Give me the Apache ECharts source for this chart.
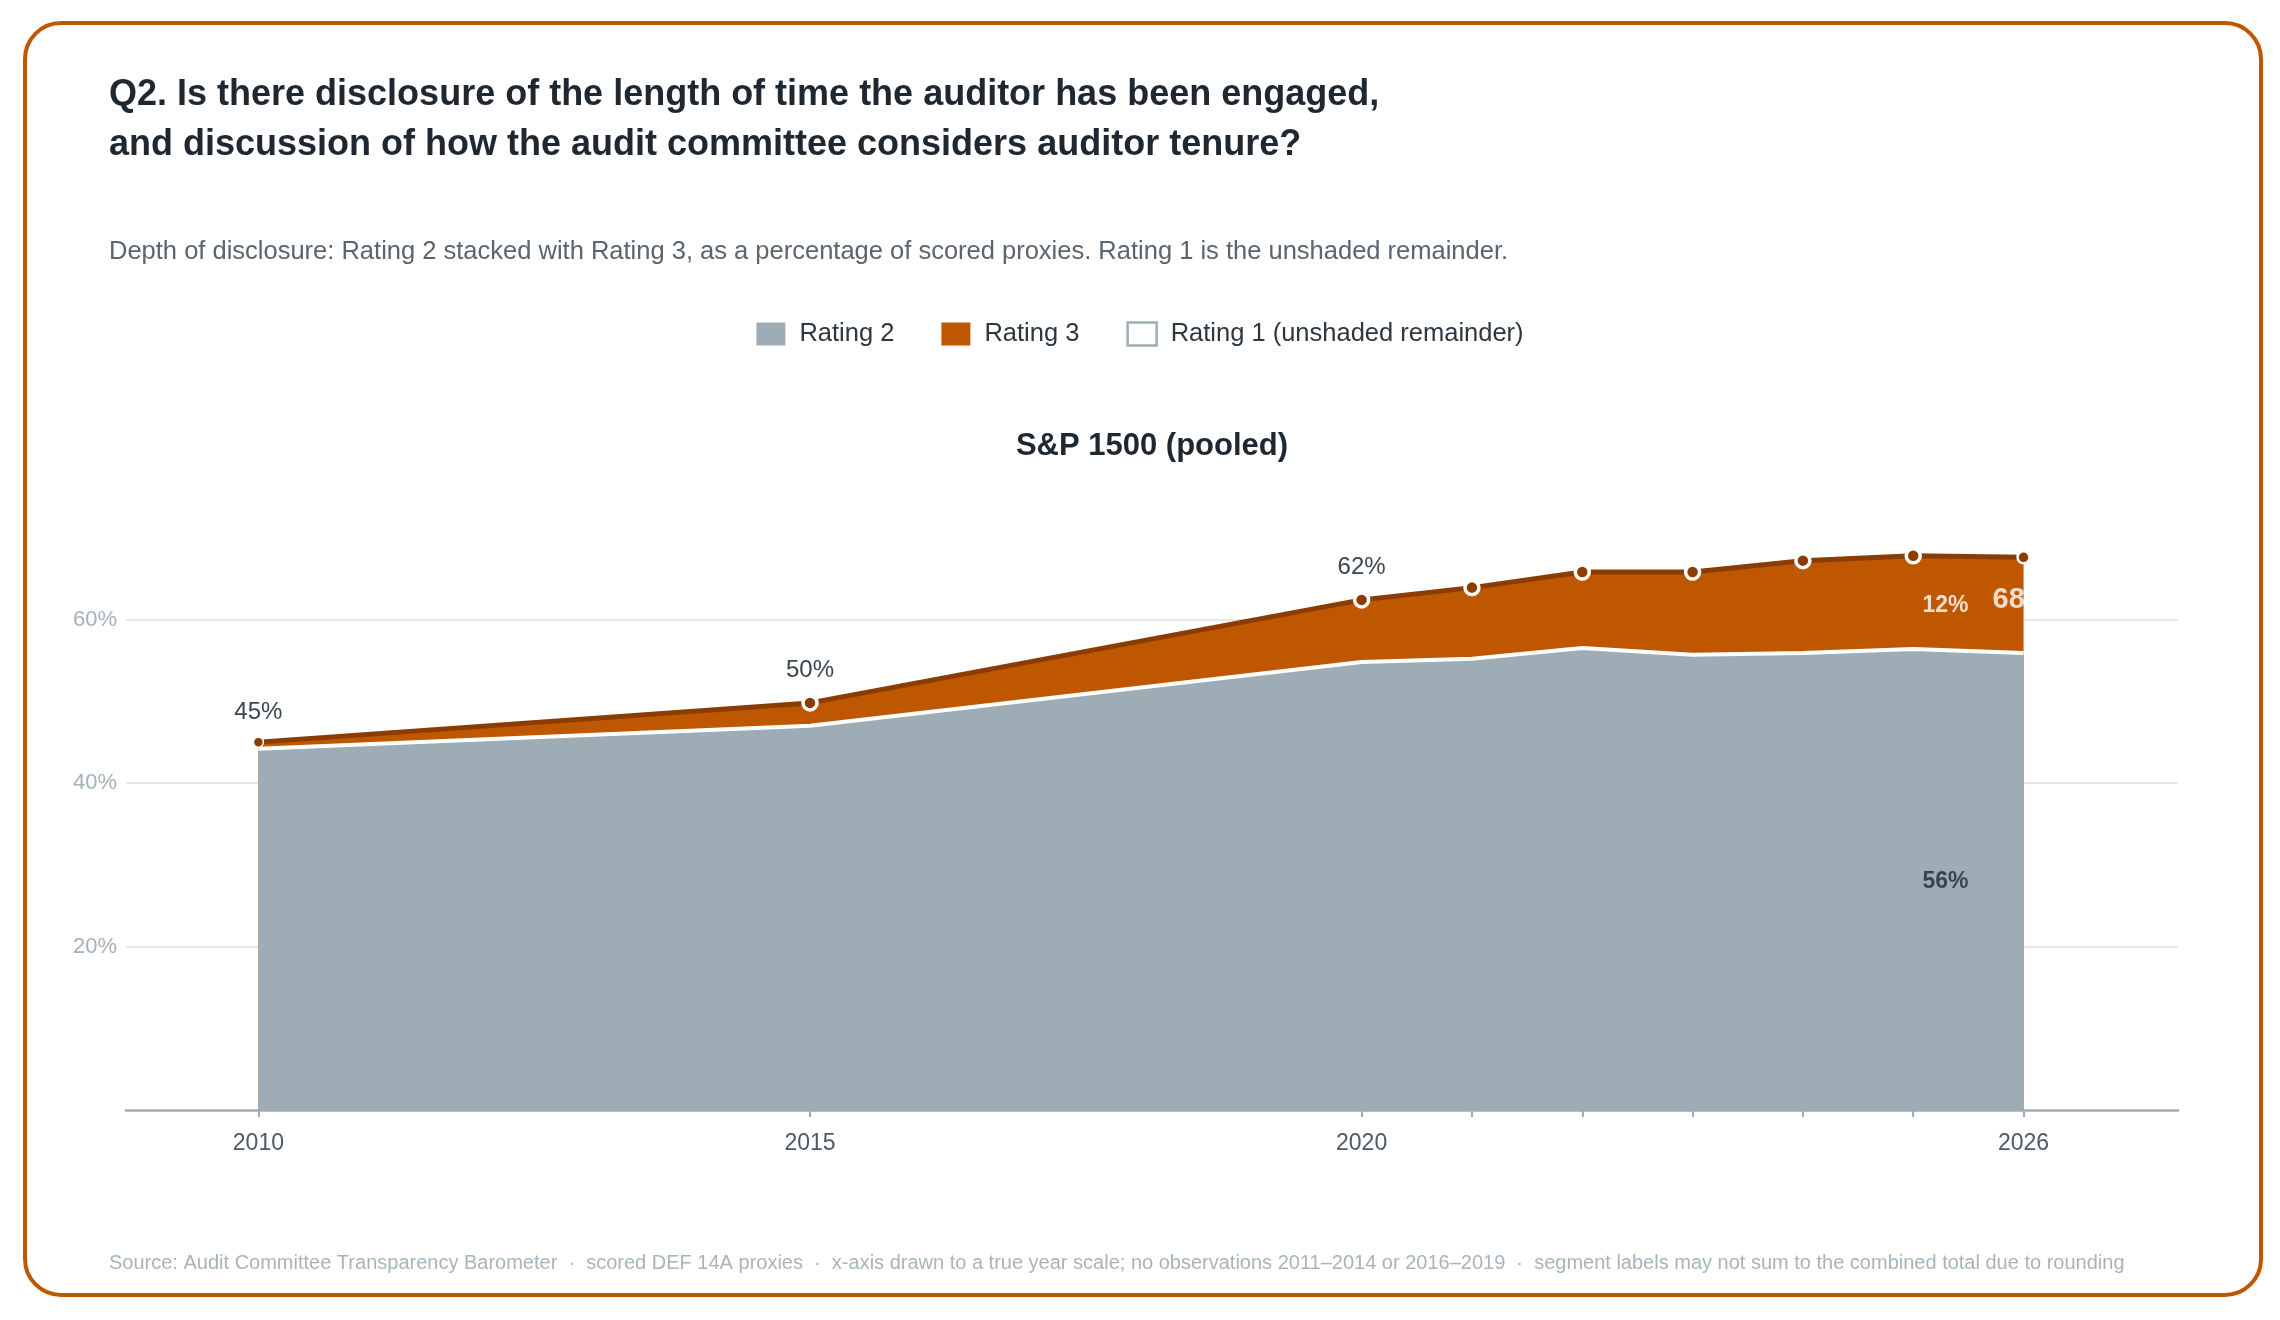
<!DOCTYPE html>
<html>
<head>
<meta charset="utf-8">
<script src="https://cdn.jsdelivr.net/npm/echarts@6/dist/echarts.min.js"></script>
<style>
  html, body { margin: 0; padding: 0; background: #fff; }
  #chart { width: 2280px; height: 1320px; }
</style>
</head>
<body>
<div id="chart"></div>
<script>
var FONT = '"Liberation Sans", Arial, sans-serif';

// observation years (true year scale)
var years = [2010, 2015, 2020, 2021, 2022, 2023, 2024, 2025, 2026];
// % of scored proxies
var rating2 = [44.2, 47.0, 54.8, 55.2, 56.5, 55.7, 55.9, 56.4, 55.9];
var rating3 = [0.8, 2.8, 7.6, 8.7, 9.3, 10.1, 11.3, 11.4, 11.7];
var labelYears = [2010, 2015, 2020];
var xLabelYears = [2010, 2015, 2020, 2026];

var GRAY = '#9dacb5';
var ORANGE = '#bf5700';
var BROWN = '#8b3c00';

// rating 2 + rating 3 (top of the shaded stack)
var combined = rating2.map(function (v, i) { return v + rating3[i]; });

var topPoints = years.map(function (y, i) {
  var last = i === years.length - 1;
  var item = { value: [y, combined[i]] };
  if (i === 0) {
    item.symbolSize = 10;
    item.itemStyle = { borderWidth: 1.5 };
  } else if (last) {
    item.symbolSize = 12;
    item.itemStyle = { borderWidth: 2.5 };
  }
  if (labelYears.indexOf(y) >= 0) {
    item.label = { show: true, formatter: Math.round(combined[i]) + '%' };
  }
  return item;
});

var n = years.length - 1;
var segLabels = [
  {
    value: [years[n], rating2[n] / 2],
    label: { formatter: Math.round(rating2[n]) + '%', color: '#1f2a33', align: 'right', offset: [-55, 0] }
  },
  {
    value: [years[n], rating2[n] + rating3[n] / 2],
    label: { formatter: Math.round(rating3[n]) + '%', color: '#fff', align: 'right', offset: [-55, 0] }
  },
  {
    value: [years[n], rating2[n] + rating3[n] / 2],
    label: { formatter: Math.round(combined[n]) + '%', color: '#fff', fontSize: 29, align: 'left', offset: [-31, -5] }
  }
];

var option = {
  backgroundColor: '#fff',
  animation: false,
  textStyle: { fontFamily: FONT },
  graphic: [{
    type: 'rect',
    shape: { x: 25, y: 23, width: 2236, height: 1272, r: 36 },
    style: { fill: 'none', stroke: ORANGE, lineWidth: 4 },
    silent: true
  }],
  title: [{
    text: 'Q2. Is there disclosure of the length of time the auditor has been engaged,\nand discussion of how the audit committee considers auditor tenure?',
    left: 109,
    top: 70,
    padding: 0,
    textStyle: { fontFamily: FONT, fontSize: 36, fontWeight: 'bold', color: '#1f2830', lineHeight: 50 }
  }, {
    text: 'Depth of disclosure: Rating 2 stacked with Rating 3, as a percentage of scored proxies. Rating 1 is the unshaded remainder.',
    left: 109,
    top: 237,
    padding: 0,
    textStyle: { fontFamily: FONT, fontSize: 25.5, fontWeight: 'normal', color: '#5a6570', lineHeight: 30 }
  }, {
    text: 'S&P 1500 (pooled)',
    left: 1152,
    textAlign: 'center',
    top: 429,
    padding: 0,
    textStyle: { fontFamily: FONT, fontSize: 31, fontWeight: 'bold', color: '#1f2830', lineHeight: 34 }
  }, {
    text: 'Source: Audit Committee Transparency Barometer  \u00b7  scored DEF 14A proxies  \u00b7  x-axis drawn to a true year scale; no observations 2011\u20132014 or 2016\u20132019  \u00b7  segment labels may not sum to the combined total due to rounding',
    left: 109,
    top: 1251,
    padding: 0,
    textStyle: { fontFamily: FONT, fontSize: 20, fontWeight: 'normal', color: '#a7b4be', lineHeight: 24 }
  }],
  legend: {
    left: 'center',
    top: 321,
    padding: 0,
    itemWidth: 29,
    itemHeight: 23,
    itemGap: 47,
    selectedMode: false,
    textStyle: { fontFamily: FONT, fontSize: 25.5, color: '#2d3740', padding: [0, 0, 0, 9] },
    data: [
      { name: 'Rating 2', icon: 'rect', itemStyle: { color: GRAY, borderWidth: 0 } },
      { name: 'Rating 3', icon: 'rect', itemStyle: { color: ORANGE, borderWidth: 0 } },
      { name: 'Rating 1 (unshaded remainder)', icon: 'rect', itemStyle: { color: '#fff', borderColor: GRAY, borderWidth: 2.5 } }
    ]
  },
  grid: { left: 126, right: 102, top: 456, bottom: 210 },
  xAxis: {
    type: 'value',
    min: 2008.8,
    max: 2027.4,
    axisLine: { show: true, lineStyle: { color: GRAY, width: 2.5 } },
    axisTick: { show: true, customValues: years, length: 7, lineStyle: { color: GRAY, width: 2 } },
    axisLabel: {
      customValues: xLabelYears,
      color: '#4d5965',
      fontSize: 23,
      margin: 22,
      fontFamily: FONT,
      formatter: function (v) { return String(v); }
    },
    splitLine: { show: false }
  },
  yAxis: {
    type: 'value',
    min: 0,
    max: 80,
    interval: 20,
    axisLine: { show: false },
    axisTick: { show: false },
    axisLabel: {
      formatter: '{value}%',
      color: '#a3b1bb',
      fontSize: 22,
      margin: 9,
      fontFamily: FONT,
      showMinLabel: false,
      showMaxLabel: false
    },
    splitLine: { show: true, showMinLine: false, showMaxLine: false, lineStyle: { color: '#e6e6e1', width: 2 } }
  },
  series: [{
    // orange band: filled up to the combined total, Rating 2 is painted over it
    name: 'Rating 3',
    type: 'line',
    z: 1,
    symbol: 'none',
    data: years.map(function (y, i) { return [y, combined[i]]; }),
    itemStyle: { color: ORANGE },
    lineStyle: { width: 0 },
    areaStyle: { color: ORANGE, opacity: 1 }
  }, {
    name: 'Rating 2',
    type: 'line',
    z: 2,
    symbol: 'none',
    data: years.map(function (y, i) { return [y, rating2[i]]; }),
    itemStyle: { color: GRAY },
    lineStyle: { color: '#fff', width: 4 },
    areaStyle: { color: GRAY, opacity: 1 }
  }, {
    name: 'combined',
    type: 'line',
    z: 3,
    symbol: 'circle',
    symbolSize: 14,
    showAllSymbol: true,
    data: topPoints,
    itemStyle: { color: BROWN, borderColor: '#fff', borderWidth: 3.5 },
    lineStyle: { color: BROWN, width: 5 },
    label: {
      show: false,
      position: 'top',
      distance: 12,
      color: '#3a4650',
      fontSize: 24,
      fontFamily: FONT
    }
  }, {
    name: 'Rating 1 (unshaded remainder)',
    type: 'line',
    data: [],
    itemStyle: { color: '#fff', borderColor: GRAY }
  }, {
    name: 'segment labels',
    type: 'scatter',
    z: 10,
    silent: true,
    symbolSize: 0,
    data: segLabels,
    label: {
      show: true,
      position: 'inside',
      fontSize: 23,
      fontWeight: 'bold',
      fontFamily: FONT
    }
  }]
};

var chart = echarts.init(document.getElementById('chart'));
chart.setOption(option);
</script>
</body>
</html>
